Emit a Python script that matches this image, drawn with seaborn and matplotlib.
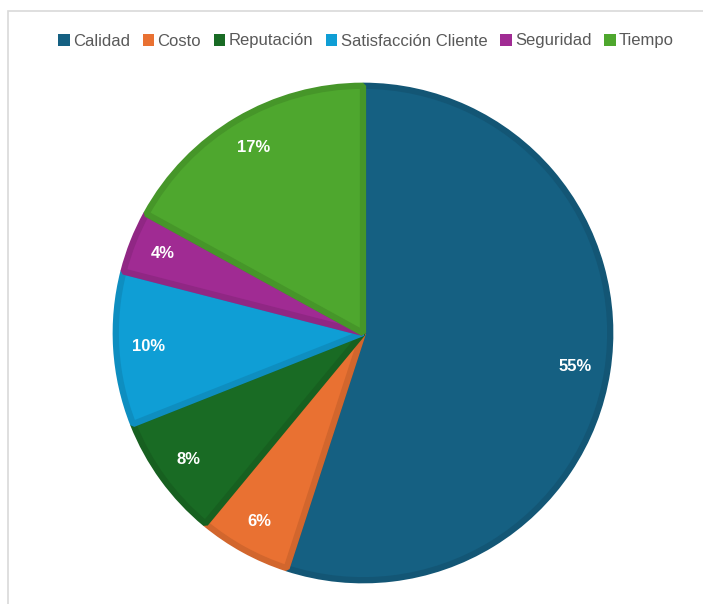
import numpy as np
import matplotlib.pyplot as plt
import matplotlib.colors as mcolors
from matplotlib.patches import Rectangle
import seaborn as sns

# data
categories = ['Calidad', 'Costo', 'Reputación', 'Satisfacción Cliente', 'Seguridad', 'Tiempo']
shares = [55, 6, 8, 10, 4, 17]
hex_colors = ['#156082', '#E97132', '#196B24', '#0F9ED5', '#A02B93', '#4EA72E']

sns.set_theme(style='white')
plt.rcParams['font.family'] = ['Liberation Sans', 'DejaVu Sans']

colors = sns.color_palette(hex_colors)
edges = [tuple(np.array(mcolors.to_rgb(c)) * 0.9) for c in colors]

fig = plt.figure(figsize=(7.03, 6.04), dpi=100)
W, H = 703, 604
cx, cy, r = 363, 333, 251
ext = 1.1
ax = fig.add_axes([(cx - r * ext) / W, (H - cy - r * ext) / H, 2 * r * ext / W, 2 * r * ext / H])

wedges, texts, autotexts = ax.pie(
    shares, colors=colors, startangle=90, counterclock=False,
    radius=0.985, autopct='%1.0f%%', pctdistance=0.87,
    wedgeprops=dict(linewidth=4.5, joinstyle='bevel'),
    textprops=dict(color='white', fontsize=12, fontweight='bold'))
for w, e in zip(wedges, edges):
    w.set_edgecolor(e)
    w.set_clip_on(False)
ax.set_xlim(-ext, ext)
ax.set_ylim(-ext, ext)
ax.set_aspect('equal')
ax.axis('off')

leg = fig.legend(wedges, categories, loc='center', bbox_to_anchor=(366 / W, 1 - 41 / H),
                 ncol=6, frameon=False, fontsize=12, handlelength=0.7, handleheight=0.7,
                 handletextpad=0.2, columnspacing=0.75, labelcolor='#595959')
for h in leg.legend_handles:
    h.set_linewidth(0)

# chart area border
fig.patches.append(Rectangle((8 / W, -0.05), 1.1, (H - 11) / H + 0.05, transform=fig.transFigure,
                             fill=False, edgecolor='#d9d9d9', linewidth=1.2, zorder=0))

fig.savefig('out.png', dpi=100, facecolor='white')
